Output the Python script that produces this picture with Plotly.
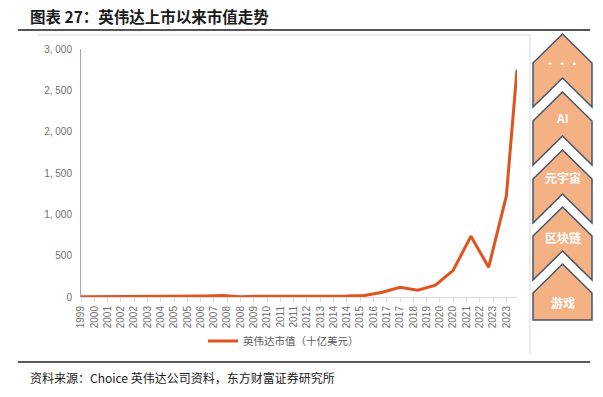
import plotly.graph_objects as go

# ---- data ----
periods = [1999, 2000, 2001, 2002, 2003, 2004, 2005, 2006, 2007, 2008, 2009, 2010,
           2011, 2012, 2013, 2014, 2015, 2016, 2017, 2018, 2019, 2020, 2021, 2022,
           2023, 2023.6]
market_cap = [1.6, 2.3, 9.4, 1.9, 3.8, 4.1, 6.3, 13.0, 18.9, 4.4, 10.3, 8.8,
              8.4, 7.6, 9.1, 10.9, 17.7, 57.5, 117.3, 81.4, 144.0, 323.2, 735.3, 359.5,
              1223.0, 2750.0]
tick_labels = ["1999", "2000", "2001", "2002", "2002", "2003", "2004", "2005", "2005",
               "2006", "2007", "2008", "2008", "2009", "2010", "2011", "2011", "2012",
               "2013", "2014", "2014", "2015", "2016", "2017", "2017", "2018", "2019",
               "2020", "2020", "2021", "2022", "2023", "2023"]
tick_values = [1999 + 0.75 * i for i in range(len(tick_labels))]
y_ticks = [0, 500, 1000, 1500, 2000, 2500, 3000]
y_tick_labels = ["0", "500", "1, 000", "1, 500", "2, 000", "2, 500", "3, 000"]
chevron_labels = ["· · ·", "AI", "元宇宙", "区块链", "游戏"]
series_name = "英伟达市值（十亿美元）"
title_text = "图表 27：英伟达上市以来市值走势"
source_text = "资料来源：Choice 英伟达公司资料，东方财富证券研究所"

W, H = 603, 397
def PX(x):
    return x / W
def PY(y):
    return 1 - y / H

CJK = "Noto Sans CJK SC"

fig = go.Figure()
fig.add_trace(go.Scatter(
    x=periods, y=market_cap, mode="lines", name=series_name,
    line=dict(color="#E2521E", width=3),
))

shapes = []
# title underline
shapes.append(dict(type="line", xref="paper", yref="paper",
                   x0=PX(18), x1=PX(590), y0=PY(30), y1=PY(30),
                   line=dict(color="#555555", width=2)))
# chart frame (top + right)
shapes.append(dict(type="line", xref="paper", yref="paper",
                   x0=PX(38), x1=PX(530), y0=PY(35), y1=PY(35),
                   line=dict(color="#D9D9D9", width=1)))
shapes.append(dict(type="line", xref="paper", yref="paper",
                   x0=PX(530), x1=PX(530), y0=PY(35), y1=PY(354),
                   line=dict(color="#D9D9D9", width=1)))
# source separator
shapes.append(dict(type="line", xref="paper", yref="paper",
                   x0=PX(18), x1=PX(590), y0=PY(362), y1=PY(362),
                   line=dict(color="#222222", width=1.5)))

# chevrons
xl, xc, xr = 533, 562.5, 592
apex = [34, 92, 150, 207, 264]
tip = 29
body = 44
text_y = [64, 118, 177, 237, 302]
annotations = []
for i, (a, lab) in enumerate(zip(apex, chevron_labels)):
    if i < len(apex) - 1:
        pts = [(xc, a), (xr, a + tip), (xr, a + tip + body), (xc, a + body),
               (xl, a + tip + body), (xl, a + tip)]
    else:
        pts = [(xc, a), (xr, a + tip), (xr, a + 56), (xl, a + 56), (xl, a + tip)]
    path = "M " + " L ".join(f"{PX(x):.5f},{PY(y):.5f}" for x, y in pts) + " Z"
    shapes.append(dict(type="path", xref="paper", yref="paper", path=path,
                       fillcolor="#F4B183", line=dict(color="#44546A", width=1.5)))
    annotations.append(dict(xref="paper", yref="paper", x=PX(xc), y=PY(text_y[i]),
                            text=f"<b>{lab}</b>", showarrow=False,
                            font=dict(family=CJK, size=12 if i > 0 else 10, color="white"),
                            xanchor="center", yanchor="middle"))

annotations.append(dict(xref="paper", yref="paper", x=PX(28), y=PY(16),
                        text=f"<b>{title_text}</b>", showarrow=False,
                        font=dict(family=CJK, size=15.5, color="#1A1A1A"),
                        xanchor="left", yanchor="middle"))
annotations.append(dict(xref="paper", yref="paper", x=PX(28), y=PY(377),
                        text=source_text, showarrow=False,
                        font=dict(family=CJK, size=12, color="#1A1A1A"),
                        xanchor="left", yanchor="middle"))

fig.update_layout(
    width=W, height=H, autosize=False,
    margin=dict(l=0, r=0, t=0, b=0, pad=0, autoexpand=False),
    paper_bgcolor="white", plot_bgcolor="white",
    shapes=shapes, annotations=annotations,
    showlegend=True,
    legend=dict(orientation="h", x=PX(203), y=PY(341), xanchor="left", yanchor="middle",
                font=dict(family=CJK, size=10.5, color="#595959"),
                bgcolor="rgba(0,0,0,0)", itemwidth=30),
    xaxis=dict(domain=[PX(81), PX(517)], range=[1999, 2023.6], automargin=False,
               tickmode="array", tickvals=tick_values, ticktext=tick_labels,
               tickangle=-90, tickfont=dict(family="Liberation Sans", size=10, color="#707070"),
               showline=True, linecolor="#D9D9D9", linewidth=1,
               ticks="outside", ticklen=4, tickcolor="#D9D9D9",
               showgrid=False, zeroline=False, fixedrange=True),
    yaxis=dict(domain=[PY(297), PY(49)], range=[0, 3000], automargin=False,
               tickmode="array", tickvals=y_ticks, ticktext=y_tick_labels,
               tickfont=dict(family="Liberation Sans", size=10, color="#707070"),
               showline=True, linecolor="#A6A6A6", linewidth=1,
               ticks="", ticklabelstandoff=6,
               showgrid=False, zeroline=False, fixedrange=True),
)

fig.write_html("out.html", config={"displayModeBar": False},
               post_script="document.body.style.margin='0';document.body.style.overflow='hidden';")
